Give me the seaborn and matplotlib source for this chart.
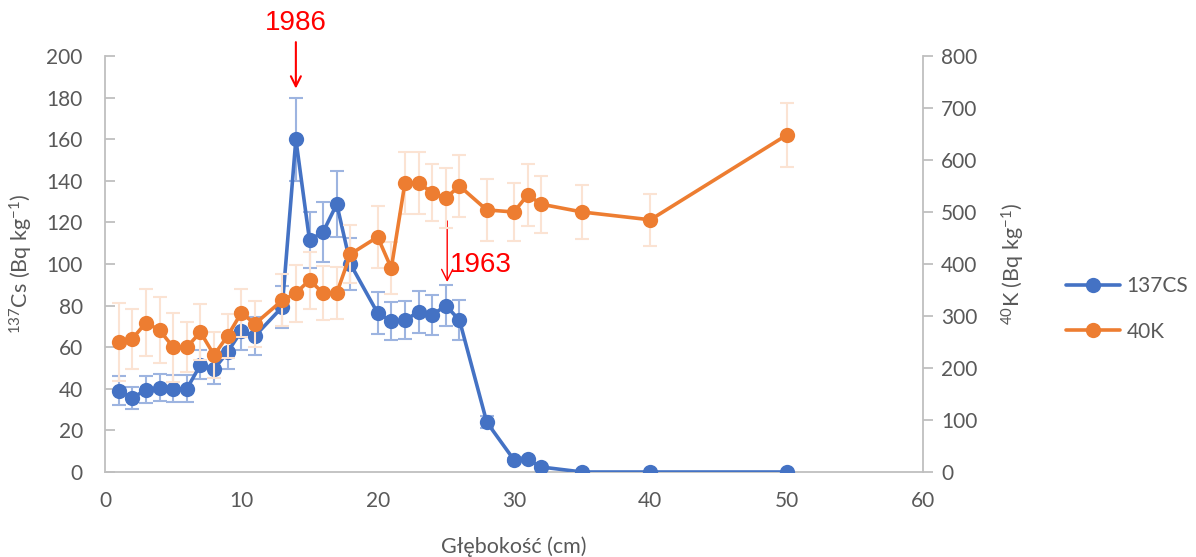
import numpy as np
import pandas as pd
import matplotlib
matplotlib.use("Agg")
import matplotlib.pyplot as plt
import seaborn as sns

# ---- data ----
depth_cs = [1, 2, 3, 4, 5, 6, 7, 8, 9, 10, 11, 13, 14, 15, 16, 17, 18, 20, 21, 22, 23, 24, 25, 26, 28, 30, 31, 32, 35, 40, 50]
cs137 = [39, 35.6, 39.5, 40.5, 40, 40, 51.5, 49.5, 57.7, 67.8, 65.4, 79.3, 160, 111.5, 115.4, 128.8, 100, 76.4, 72.6, 73, 77, 75.5, 80, 73, 24, 5.8, 6.2, 2.4, 0, 0, 0]
cs137_err = [7, 5.5, 6.5, 6.5, 6.5, 6.5, 7, 7, 8, 9, 9, 10, 20, 13.5, 14.5, 16, 12.5, 10, 9, 9, 10, 9.5, 10, 9.7, 3, 1, 1, 0.5, 0, 0, 0]

depth_k = [1, 2, 3, 4, 5, 6, 7, 8, 9, 10, 11, 13, 14, 15, 16, 17, 18, 20, 21, 22, 23, 24, 25, 26, 28, 30, 31, 32, 35, 40, 50]
k40 = [250, 256, 287, 273, 240, 240, 269, 225, 262, 306, 285, 330, 344, 369, 344, 344, 419, 452, 392, 556, 556, 537, 527, 550, 504, 500, 533, 515, 500, 485, 648]
k40_err = [75, 57, 64, 63, 66, 48, 54, 44, 42, 46, 44, 50, 55, 55, 52, 50, 56, 60, 50, 59, 59, 55, 58, 60, 60, 55, 60, 55, 52, 50, 62]

x_ticks = [0, 10, 20, 30, 40, 50, 60]
left_ticks = [0, 20, 40, 60, 80, 100, 120, 140, 160, 180, 200]
right_ticks = [0, 100, 200, 300, 400, 500, 600, 700, 800]

BLUE = "#4472C4"
ORANGE = "#ED7D31"
BLUE_ERR = "#9DB4E0"
ORANGE_ERR = "#FBE3D3"
GRAY = "#595959"
AXIS = "#BFBFBF"

sns.set_style("white")
plt.rcParams['font.family'] = ['Lato', 'DejaVu Sans']
plt.rcParams['mathtext.default'] = 'regular'

fig = plt.figure(figsize=(11.96, 5.57), dpi=100)
ax = fig.add_axes([105/1196, 1 - 472/557, (923-105)/1196, (472-56)/557])
ax2 = ax.twinx()

df_cs = pd.DataFrame({"depth": depth_cs, "val": cs137, "err": cs137_err})
df_k = pd.DataFrame({"depth": depth_k, "val": k40, "err": k40_err})

# error bars
ax.errorbar(df_cs["depth"], df_cs["val"], yerr=df_cs["err"], fmt="none",
            ecolor=BLUE_ERR, elinewidth=1.5, capsize=5, capthick=1.5, zorder=1)
ax2.errorbar(df_k["depth"], df_k["val"], yerr=df_k["err"], fmt="none",
             ecolor=ORANGE_ERR, elinewidth=1.5, capsize=5, capthick=1.5, zorder=1)

sns.lineplot(data=df_cs, x="depth", y="val", ax=ax, color=BLUE, linewidth=2.6,
             marker="o", markersize=11, markeredgewidth=0, label="137CS", legend=False,
             zorder=3)
sns.lineplot(data=df_k, x="depth", y="val", ax=ax2, color=ORANGE, linewidth=2.6,
             marker="o", markersize=11, markeredgewidth=0, label="40K", legend=False,
             zorder=3)

ax.set_xlim(0, 60)
ax.set_ylim(0, 200)
ax2.set_ylim(0, 800)
ax.set_xticks(x_ticks)
ax.set_yticks(left_ticks)
ax2.set_yticks(right_ticks)

for a in (ax, ax2):
    for s in a.spines.values():
        s.set_visible(False)
ax.spines["bottom"].set_visible(True)
ax.spines["bottom"].set_color(AXIS)
ax.spines["bottom"].set_linewidth(1.3)
ax.spines["left"].set_visible(True)
ax.spines["left"].set_color(AXIS)
ax.spines["left"].set_linewidth(1.3)
ax2.spines["right"].set_visible(True)
ax2.spines["right"].set_color(AXIS)
ax2.spines["right"].set_linewidth(1.3)

ax.tick_params(axis="x", length=0, labelsize=15, labelcolor=GRAY, pad=14)
ax.tick_params(axis="y", direction="in", length=7, color=AXIS, width=1.3,
               labelsize=15, labelcolor=GRAY, pad=16)
ax2.tick_params(axis="y", direction="out", length=7, color=AXIS, width=1.3,
                labelsize=15, labelcolor=GRAY, pad=6)
ax.grid(False)
ax2.grid(False)

ax.set_xlabel("Głębokość (cm)", fontsize=15.5, color=GRAY, labelpad=18)
ax.set_ylabel(r"$^{137}$Cs (Bq kg$^{-1}$)", fontsize=15.5, color=GRAY)
ax2.set_ylabel(r"$^{40}$K (Bq kg$^{-1}$)", fontsize=15.5, color=GRAY)
ax.yaxis.set_label_coords((35 - 105) / 818, 0.5)
ax2.yaxis.set_label_coords((1000 - 105) / 818, 0.5)

# annotations
ax.annotate("", xy=(14, 183), xytext=(14, 208), xycoords="data",
            arrowprops=dict(arrowstyle="->", color="red", lw=1.5,
                            mutation_scale=18), annotation_clip=False)
ax.text(14, 209.5, "1986", color="red", fontsize=20, ha="center", va="bottom",
        family="Liberation Sans", clip_on=False)
ax.annotate("", xy=(25.1, 90), xytext=(25.1, 122), xycoords="data",
            arrowprops=dict(arrowstyle="->", color="red", lw=1.0,
                            mutation_scale=20))
ax.text(25.3, 99.5, "1963", color="red", fontsize=20, ha="left", va="center",
        family="Liberation Sans")

h1, l1 = ax.get_legend_handles_labels()
h2, l2 = ax2.get_legend_handles_labels()
fig.legend(h1 + h2, l1 + l2, loc="center left", bbox_to_anchor=(1066/1196, 1 - 309/557),
           frameon=False, fontsize=15, labelcolor=GRAY, handlelength=2.6,
           labelspacing=1.2, handletextpad=0.3, borderpad=0, borderaxespad=0)

fig.savefig("out.png", dpi=100, facecolor="white")
